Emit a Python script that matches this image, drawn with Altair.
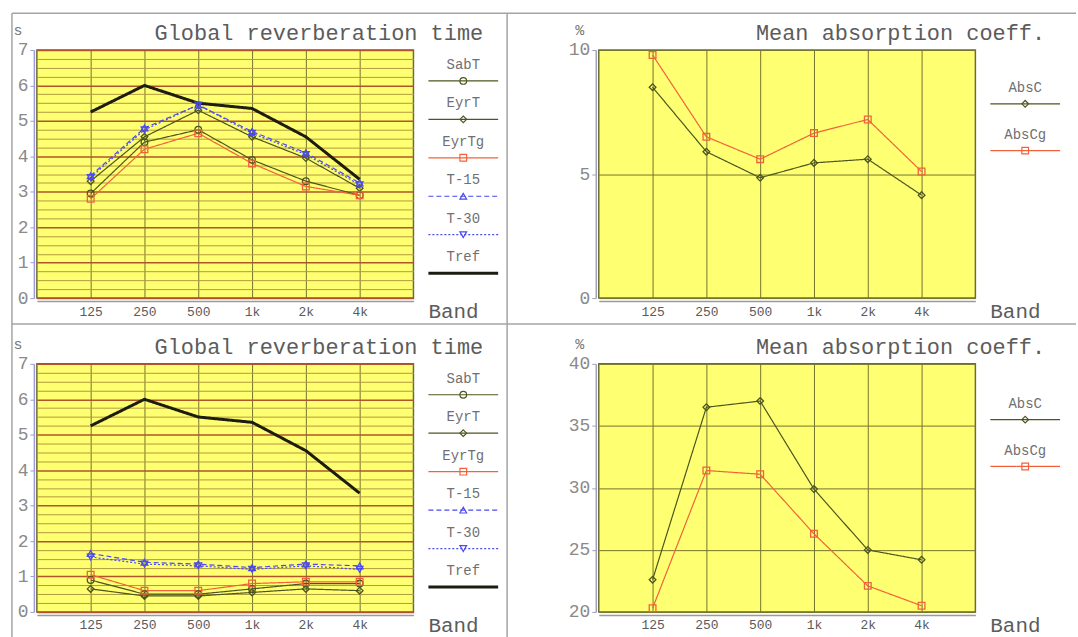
import altair as alt
import pandas as pd

# Octave bands on the x axis
bands = ["125", "250", "500", "1k", "2k", "4k"]

rt_series = ["SabT", "EyrT", "EyrTg", "T-15", "T-30", "Tref"]
abs_series = ["AbsC", "AbsCg"]

# Case 1: global reverberation time per band (s)
sabt_1 = [2.95, 4.4, 4.75, 3.9, 3.3, 2.9]
eyrt_1 = [3.3, 4.55, 5.3, 4.55, 3.95, 3.1]
eyrtg_1 = [2.8, 4.2, 4.65, 3.8, 3.15, 2.9]
t15_1 = [3.45, 4.8, 5.45, 4.7, 4.1, 3.25]
t30_1 = [3.4, 4.75, 5.45, 4.65, 4.05, 3.2]
tref_1 = [5.25, 6.0, 5.5, 5.35, 4.55, 3.35]

# Case 1: mean absorption coefficient per band (%)
absc_1 = [8.5, 5.9, 4.85, 5.45, 5.6, 4.15]
abscg_1 = [9.8, 6.5, 5.6, 6.65, 7.2, 5.1]

# Case 2: global reverberation time per band (s)
sabt_2 = [0.9, 0.5, 0.5, 0.65, 0.8, 0.8]
eyrt_2 = [0.65, 0.45, 0.45, 0.55, 0.65, 0.6]
eyrtg_2 = [1.05, 0.6, 0.6, 0.8, 0.85, 0.85]
t15_2 = [1.65, 1.4, 1.35, 1.25, 1.35, 1.3]
t30_2 = [1.55, 1.35, 1.3, 1.2, 1.3, 1.2]
tref_2 = [5.25, 6.0, 5.5, 5.35, 4.55, 3.35]

# Case 2: mean absorption coefficient per band (%)
absc_2 = [22.6, 36.5, 37.0, 29.9, 25.0, 24.2]
abscg_2 = [20.3, 31.4, 31.1, 26.3, 22.1, 20.5]

# ---- styling ----
FONT = "Liberation Mono"
PLOT_W, PLOT_H = 378, 249
YELLOW = "#ffff72"
FRAME = "#a4a4a4"
GRID_V = "#74742c"

ALL = rt_series + abs_series
COLOR = {"SabT": "#4c561e", "EyrT": "#4c561e", "EyrTg": "#f2623a",
         "T-15": "#4a4af0", "T-30": "#4a4af0", "Tref": "#1c1c10",
         "AbsC": "#4c561e", "AbsCg": "#f2623a"}
DASH = {"SabT": [1, 0], "EyrT": [1, 0], "EyrTg": [1, 0], "T-15": [5, 3],
        "T-30": [2, 2], "Tref": [1, 0], "AbsC": [1, 0], "AbsCg": [1, 0]}
SHAPE = {"SabT": "circle", "EyrT": "diamond", "EyrTg": "square",
         "T-15": "triangle-up", "T-30": "triangle-down",
         "AbsC": "diamond", "AbsCg": "square"}
SIZE = {"SabT": 45, "EyrT": 45, "EyrTg": 100, "T-15": 70, "T-30": 70,
        "AbsC": 50, "AbsCg": 110}
MARKED = [n for n in ALL if n in SHAPE]

# one shared set of series scales for every panel
color = alt.Color("series:N", scale=alt.Scale(domain=ALL, range=[COLOR[n] for n in ALL]), legend=None)
dash = alt.StrokeDash("series:N", scale=alt.Scale(domain=ALL, range=[DASH[n] for n in ALL]), legend=None)
width = alt.condition("datum.series === 'Tref'", alt.value(3.0), alt.value(1.2))
shape = alt.Shape("series:N", scale=alt.Scale(domain=MARKED, range=[SHAPE[n] for n in MARKED]), legend=None)
size = alt.Size("series:N", scale=alt.Scale(domain=MARKED, range=[SIZE[n] for n in MARKED]), legend=None)


def long_frame(names, arrays):
    rows = []
    for name, vals in zip(names, arrays):
        for b, v in zip(bands, vals):
            rows.append({"series": name, "band": b, "value": v})
    return pd.DataFrame(rows)


def text_at(text, x, y, size, align="center", color="#5c5c5c"):
    return alt.Chart(pd.DataFrame({"t": [text]})).mark_text(
        font=FONT, fontSize=size, align=align, baseline="middle", color=color
    ).encode(x=alt.value(x), y=alt.value(y), text="t:N")


def hline(x0, x1, y):
    return alt.Chart(pd.DataFrame({"k": [0]})).mark_rule(
        color=FRAME, strokeWidth=1.5
    ).encode(x=alt.value(x0), x2=alt.value(x1), y=alt.value(y))


def vline(x, y0, y1):
    return alt.Chart(pd.DataFrame({"k": [0]})).mark_rule(
        color=FRAME, strokeWidth=1.5
    ).encode(x=alt.value(x), y=alt.value(y0), y2=alt.value(y1))


def panel(df, names, y_domain, y_axis, unit, title, leg_top, leg_step, extras=()):
    x_axis = alt.Axis(title=None, grid=True, gridColor=GRID_V, gridWidth=1,
                      domainColor="#9a9a9a", domainWidth=1.5, offset=3,
                      ticks=False, labelFont=FONT, labelFontSize=13,
                      labelColor="#5a5a5a", labelPadding=4, labelAngle=0)
    X = alt.X("band:O", sort=bands, scale=alt.Scale(type="point", padding=1), axis=x_axis)
    Y = alt.Y("value:Q", scale=alt.Scale(domain=y_domain, nice=False, zero=False), axis=y_axis)

    lines = alt.Chart(df).mark_line().encode(
        x=X, y=Y, color=color, strokeDash=dash, strokeWidth=width)
    pts = alt.Chart(df[df["series"].isin(MARKED)]).mark_point(
        filled=False, opacity=1, strokeWidth=1.3
    ).encode(x=X, y=Y, color=color, shape=shape, size=size)
    main = alt.layer(lines, pts)

    # series key at the right of the plot: name above a short line sample
    leg = pd.DataFrame({"series": names, "idx": list(range(len(names)))})
    LY = alt.Y("idx:Q", axis=None,
               scale=alt.Scale(domain=[0, len(names) - 1],
                               range=[leg_top, leg_top + leg_step * (len(names) - 1)]))
    cx, x0, x1, dy = 428, 393, 463, 16
    leg_text = alt.Chart(leg).mark_text(
        font=FONT, fontSize=14, color="#707070", align="center", baseline="middle"
    ).encode(x=alt.value(cx), y=LY, text="series:N")
    leg_rule = alt.Chart(leg).mark_rule(yOffset=dy).encode(
        x=alt.value(x0), x2=alt.value(x1), y=LY,
        color=color, strokeDash=dash, strokeWidth=width)
    leg_pt = alt.Chart(leg[leg["series"].isin(MARKED)]).mark_point(
        filled=False, opacity=1, strokeWidth=1.2, yOffset=dy
    ).encode(x=alt.value(cx), y=LY, color=color, shape=shape, size=size)
    key = alt.layer(leg_text, leg_rule, leg_pt)

    notes = [
        text_at(title, 448, -17, 22, align="right"),
        text_at(unit, -19, -20, 15, color="#777777"),
        text_at("Band", 393, 263, 21, align="left"),
    ]
    return alt.layer(main, key, *notes, *extras).resolve_scale(y="independent").properties(
        width=PLOT_W, height=PLOT_H)


# reverberation axis: quarter-second grid, integer lines emphasised
is_int = "datum.value % 1 === 0"
rt_axis = alt.Axis(
    title=None, values=[i * 0.25 for i in range(29)],
    labelExpr="datum.value % 1 === 0 ? format(datum.value, 'd') : ''",
    grid=True,
    gridColor={"condition": {"test": is_int, "value": "#b0542a"}, "value": "#b39a3c"},
    gridWidth={"condition": {"test": is_int, "value": 1.5}, "value": 1},
    tickOpacity={"condition": {"test": is_int, "value": 1}, "value": 0},
    domainColor="#9c9cdc", domainWidth=1.5, tickColor="#9c9cdc", tickSize=4,
    offset=3, labelFont=FONT, labelFontSize=18, labelColor="#8a8a8a", labelPadding=2)


def abs_axis(values):
    return alt.Axis(title=None, values=values, grid=True, gridColor=GRID_V, gridWidth=1,
                    domainColor="#a0a0b8", domainWidth=1.5, tickColor="#a0a0b8",
                    tickSize=4, offset=3, labelFont=FONT, labelFontSize=18,
                    labelColor="#8a8a8a", labelPadding=2)


frame = [
    hline(-25, 1043, -37),
    vline(-25, -37, 590),
    vline(472, -37, 590),
    hline(-25, 1043, 275),
]

rt1 = long_frame(rt_series, [sabt_1, eyrt_1, eyrtg_1, t15_1, t30_1, tref_1])
rt2 = long_frame(rt_series, [sabt_2, eyrt_2, eyrtg_2, t15_2, t30_2, tref_2])
ab1 = long_frame(abs_series, [absc_1, abscg_1])
ab2 = long_frame(abs_series, [absc_2, abscg_2])

p1 = panel(rt1, rt_series, [0, 7], rt_axis, "s", "Global reverberation time", 15, 38.6, frame)
p2 = panel(ab1, abs_series, [0, 10], abs_axis([0, 5, 10]), "%", "Mean absorption coeff.", 38, 47)
p3 = panel(rt2, rt_series, [0, 7], rt_axis, "s", "Global reverberation time", 15, 38.6)
p4 = panel(ab2, abs_series, [20, 40], abs_axis([20, 25, 30, 35, 40]), "%", "Mean absorption coeff.", 40, 47)

chart = alt.concat(
    p1, p2, p3, p4, columns=2,
    spacing={"row": 66, "column": 186}, bounds="flush",
).properties(
    padding={"left": 10, "top": 10, "right": 0, "bottom": 0},
    background="white",
).configure_view(fill=YELLOW, stroke="#6c6c38", strokeWidth=1.5)

chart.save("out.html", embed_options={"renderer": "svg", "actions": False})
